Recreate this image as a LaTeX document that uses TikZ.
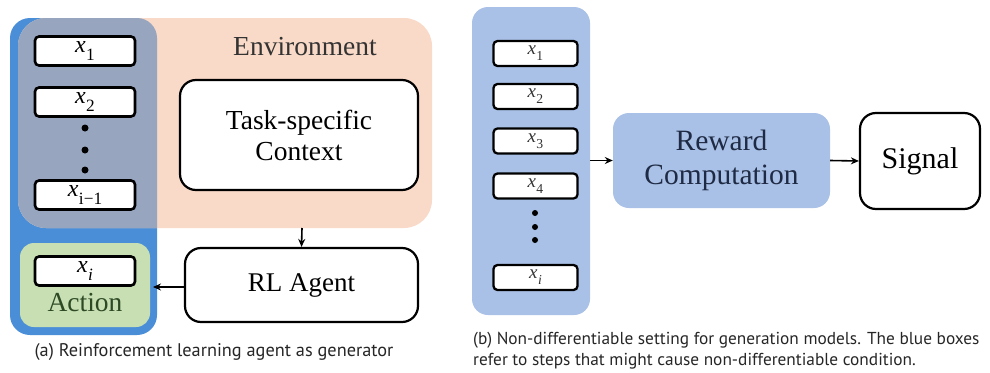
\documentclass[tikz,border=0pt]{standalone}
\usepackage{fontspec}
\setmainfont{Liberation Serif}
\newfontfamily\capfont{PT Sans}
\usetikzlibrary{arrows.meta}
\definecolor{outerblue}{HTML}{4A8ED8}
\definecolor{peach}{HTML}{F9D9C7}
\definecolor{grayblend}{HTML}{97A6BE}
\definecolor{actgreen}{HTML}{C7DFB3}
\definecolor{lightblue}{HTML}{A9C1E6}
\definecolor{navy}{HTML}{1F2A44}
\definecolor{dkgreen}{HTML}{2E4A25}
\newcommand\xsub[1]{\textit{x}\kern0.02em\raisebox{-0.32em}{\scalebox{0.72}{#1}}}
\tikzset{
  xbox/.style={draw=black, line width=2.6pt, rounded corners=4pt, fill=white, minimum width=100pt, minimum height=29pt, inner sep=0pt, font=\fontsize{24}{26}\selectfont},
  xboxs/.style={draw=black, line width=2.3pt, rounded corners=4pt, fill=white, minimum width=84pt, minimum height=25pt, inner sep=0pt, font=\fontsize{19}{21}\selectfont, text=black!80},
  bigbox/.style={draw=black, line width=2.2pt, rounded corners=16pt, fill=white, inner sep=0pt},
  dotn/.style={circle, fill=black, inner sep=0pt, minimum size=7pt},
  arr/.style={-{Stealth[length=8pt,width=7pt]}, line width=1.6pt},
  lbl/.style={inner sep=0pt}
}
\begin{document}
\begin{tikzpicture}[x=1pt,y=-1pt]
\useasboundingbox (0,0) rectangle (990,372);
% ---- panel (a)
\fill[outerblue, rounded corners=20pt] (10,18) rectangle (157,335);
\fill[peach, rounded corners=28pt] (18,18) rectangle (432,228);
\begin{scope}
  \clip[rounded corners=20pt] (10,18) rectangle (157,335);
  \fill[grayblend, rounded corners=28pt] (18,18) rectangle (432,228);
\end{scope}
\node[lbl, font=\fontsize{27.5}{30}\selectfont, text=black!80] (env) at (305,47) {Environment};
\node[bigbox, minimum width=238pt, minimum height=110pt, align=center, font=\fontsize{27.5}{31}\selectfont] (ctx) at (299,135) {Task-specific\\Context};
\node[xbox] (xa1) at (85,51) {\xsub{1}};
\node[xbox] (xa2) at (85,102) {\xsub{2}};
\node[dotn] (da1) at (85,128) {};
\node[dotn] (da2) at (85,150) {};
\node[dotn] (da3) at (85,170) {};
\node[xbox] (xa3) at (85,195) {\xsub{i−1}};
\node[fill=actgreen, rounded corners=14pt, minimum width=130pt, minimum height=84pt, inner sep=0pt] (act) at (85,285) {};
\node[xbox] (xai) at (85,271) {\xsub{\textit{i}}};
\node[lbl, font=\fontsize{27.5}{30}\selectfont, text=dkgreen] (actl) at (85,303) {Action};
\node[bigbox, minimum width=233pt, minimum height=74pt, font=\fontsize{27}{29}\selectfont] (rl) at (301.5,285) {RL Agent};
\coordinate (envb) at (302,228);
\coordinate (acte) at (153,287);
\draw[arr] (envb) -- (rl.north);
\draw[arr] (rl.west |- acte) -- (acte);
\node[lbl, font=\capfont\fontsize{18.3}{20}\selectfont, text=black!85] (capa) at (214,352) {(a) Reinforcement learning agent as generator};
% ---- panel (b)
\node[fill=lightblue, rounded corners=16pt, minimum width=118pt, minimum height=308pt, inner sep=0pt] (col) at (531,161) {};
\node[xboxs] (xb1) at (535.5,53.5) {\xsub{1}};
\node[xboxs] (xb2) at (535.5,96.5) {\xsub{2}};
\node[xboxs] (xb3) at (535.5,141) {\xsub{3}};
\node[xboxs] (xb4) at (535.5,186) {\xsub{4}};
\node[dotn, minimum size=6pt] (db1) at (535,213) {};
\node[dotn, minimum size=6pt] (db2) at (535,227) {};
\node[dotn, minimum size=6pt] (db3) at (535,240) {};
\node[xboxs] (xbi) at (535.5,277.5) {\xsub{\textit{i}}};
\node[fill=lightblue, rounded corners=16pt, minimum width=217pt, minimum height=95pt, inner sep=0pt, align=center, text=navy, font=\fontsize{29.5}{34}\selectfont] (rc) at (721.5,160.5) {Reward\\Computation};
\node[bigbox, minimum width=120pt, minimum height=96pt, font=\fontsize{30}{32}\selectfont] (sig) at (920,161) {Signal};
\draw[arr] (col.east |- rc.west) -- (rc.west);
\draw[arr] (rc.east) -- (sig.west);
\node[lbl, anchor=west, align=left, font=\capfont\fontsize{17.3}{20.5}\selectfont, text=black!85] (capb) at (473,350.5) {(b) Non-differentiable setting for generation models. The blue boxes\\refer to steps that might cause non-differentiable condition.};
\end{tikzpicture}
\end{document}
